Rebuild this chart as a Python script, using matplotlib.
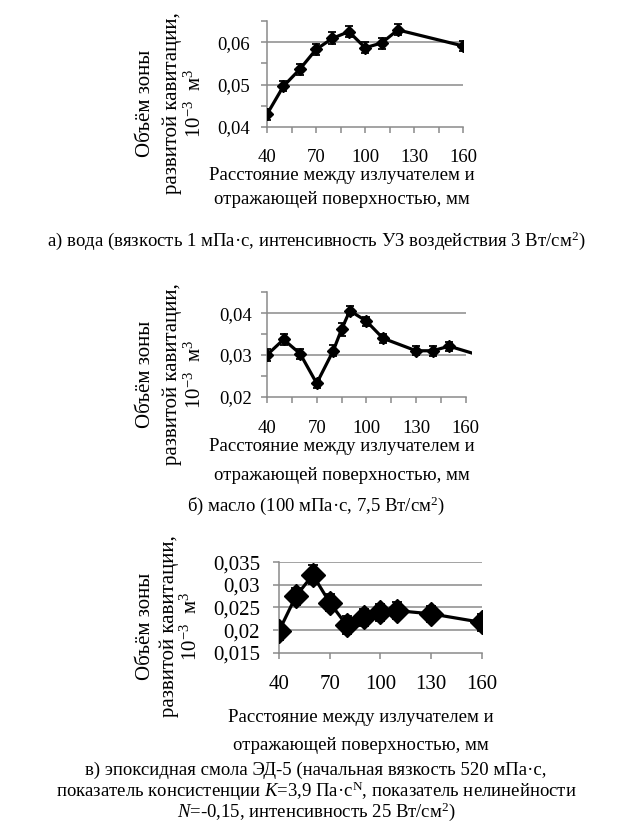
import matplotlib
matplotlib.use('Agg')
import matplotlib.pyplot as plt
from matplotlib.ticker import FixedLocator, FuncFormatter

plt.rcParams['font.family'] = ['Liberation Serif', 'DejaVu Serif']
plt.rcParams['mathtext.fontset'] = 'custom'
plt.rcParams['mathtext.rm'] = 'Liberation Serif'
plt.rcParams['mathtext.it'] = 'Liberation Serif:italic'

# а) вода
x_water = [40, 50, 60, 70, 80, 90, 100, 110, 120, 160]
v_water = [0.0430, 0.0496, 0.0536, 0.0583, 0.0609, 0.0625, 0.0587, 0.0598, 0.0629, 0.0591]
e_water = [0.0013, 0.0012, 0.0013, 0.0013, 0.0014, 0.0013, 0.0013, 0.0013, 0.0013, 0.0012]

# б) масло
x_oil = [40, 50, 60, 70, 80, 85, 90, 100, 110, 130, 140, 150, 170]
v_oil = [0.0300, 0.0337, 0.0303, 0.0232, 0.0310, 0.0361, 0.0406, 0.0381, 0.0340,
         0.0310, 0.0310, 0.0321, 0.0297]
e_oil = [0.0015, 0.0012, 0.0012, 0.0011, 0.0013, 0.0015, 0.0011, 0.0011, 0.0011,
         0.0011, 0.0012, 0.0011, 0.0011]

# в) эпоксидная смола
x_resin = [40, 50, 60, 70, 80, 90, 100, 110, 130, 160]
v_resin = [0.0198, 0.0275, 0.0322, 0.0261, 0.0211, 0.0228, 0.0239, 0.0243, 0.0236, 0.0217]
e_resin = [0.0019, 0.0019, 0.0021, 0.0019, 0.0020, 0.0018, 0.0018, 0.0019, 0.0018, 0.0019]

xticks = [40, 70, 100, 130, 160]
ylabel_lines = ['Объём зоны', 'развитой кавитации,', '10$^{-3}$  м$^{3}$']
xlabel_lines = ['Расстояние между излучателем и', 'отражающей поверхностью, мм']

W, H = 633, 833
fig = plt.figure(figsize=(W / 100, H / 100), dpi=100)
GRAY = '#8a8a8a'


def add_ax(left, top, right, bottom):
    return fig.add_axes([left / W, 1 - bottom / H, (right - left) / W, (bottom - top) / H])


def ftext(x, y, s, **kw):
    fig.text(x / W, 1 - y / H, s, ha='center', va='center', **kw)


def panel(box, xs, ys, es, xmax, ylim, ymaj, ymin, grid, xmin_ticks, ms, cap, fs, xpad, ypad):
    ax = add_ax(*box)
    ax.errorbar(xs, ys, yerr=es, color='black', lw=2.3, marker='D', ms=ms,
                capsize=cap, elinewidth=1.3, capthick=1.3, zorder=3)
    ax.hlines(grid, 40, 160, color=GRAY, lw=1.1, zorder=1)
    ax.set_xlim(40, xmax)
    ax.set_ylim(*ylim)
    for s in ['top', 'right']:
        ax.spines[s].set_visible(False)
    for s in ['left', 'bottom']:
        ax.spines[s].set_color(GRAY)
        ax.spines[s].set_linewidth(1.1)
    ax.spines['bottom'].set_bounds(40, 160)
    ax.xaxis.set_major_locator(FixedLocator(xticks))
    ax.xaxis.set_minor_locator(FixedLocator(xmin_ticks))
    ax.yaxis.set_major_locator(FixedLocator(ymaj))
    ax.yaxis.set_minor_locator(FixedLocator(ymin))
    ax.yaxis.set_major_formatter(FuncFormatter(lambda v, p: f'{v:g}'.replace('.', ',')))
    ax.tick_params(which='both', direction='out', length=4, width=1.1, color=GRAY,
                   labelsize=fs)
    ax.tick_params(axis='x', pad=xpad)
    ax.tick_params(axis='y', pad=ypad)
    ax.set_facecolor('none')
    return ax


# а)
panel((267, 21, 463.3, 127), x_water, v_water, e_water, 160, (0.04, 0.065),
      [0.04, 0.05, 0.06], [0.045, 0.055, 0.065], [0.05, 0.06], [55, 85, 115, 145],
      6, 3.2, 13.5, 12, 8)
# б)
panel((267, 292.3, 471.7, 396.7), x_oil, v_oil, e_oil, 163.6, (0.02, 0.045),
      [0.02, 0.03, 0.04], [0.025, 0.035, 0.045], [0.03, 0.04], [55, 85, 115, 145],
      6, 3.2, 13.5, 13, 7)
# в)
panel((279, 562.3, 481.8, 652.7), x_resin, v_resin, e_resin, 160, (0.015, 0.035),
      [0.015, 0.02, 0.025, 0.03, 0.035], [], [0.02, 0.025, 0.03, 0.035], [],
      12, 3.6, 15, 12, 9.5)

# axis titles
for yc, xs in [(103, (146, 172, 195)), (374, (146, 172, 195)), (626, (146, 169, 191))]:
    for xp, s in zip(xs, ylabel_lines):
        ftext(xp, yc, s, rotation=90, fontsize=15)

for y1, y2, xc in [(175, 200, 342), (447, 475, 342), (718, 745, 361)]:
    ftext(xc, y1, xlabel_lines[0], fontsize=13.5)
    ftext(xc, y2, xlabel_lines[1], fontsize=13.5)

# captions
fs_cap = 13.5
ftext(316, 241, 'а) вода (вязкость 1 мПа·с, интенсивность УЗ воздействия 3 Вт/см$^{2}$)', fontsize=fs_cap)
ftext(316, 506, 'б) масло (100 мПа·с, 7,5 Вт/см$^{2}$)', fontsize=fs_cap)
ftext(316, 770, 'в) эпоксидная смола ЭД-5 (начальная вязкость 520 мПа·с,', fontsize=fs_cap)
ftext(316, 791, 'показатель консистенции $K$=3,9 Па·с$^{\\mathrm{N}}$, показатель нелинейности', fontsize=fs_cap)
ftext(316, 812, '$N$=-0,15, интенсивность 25 Вт/см$^{2}$)', fontsize=fs_cap)

fig.savefig('out.png', dpi=100)
